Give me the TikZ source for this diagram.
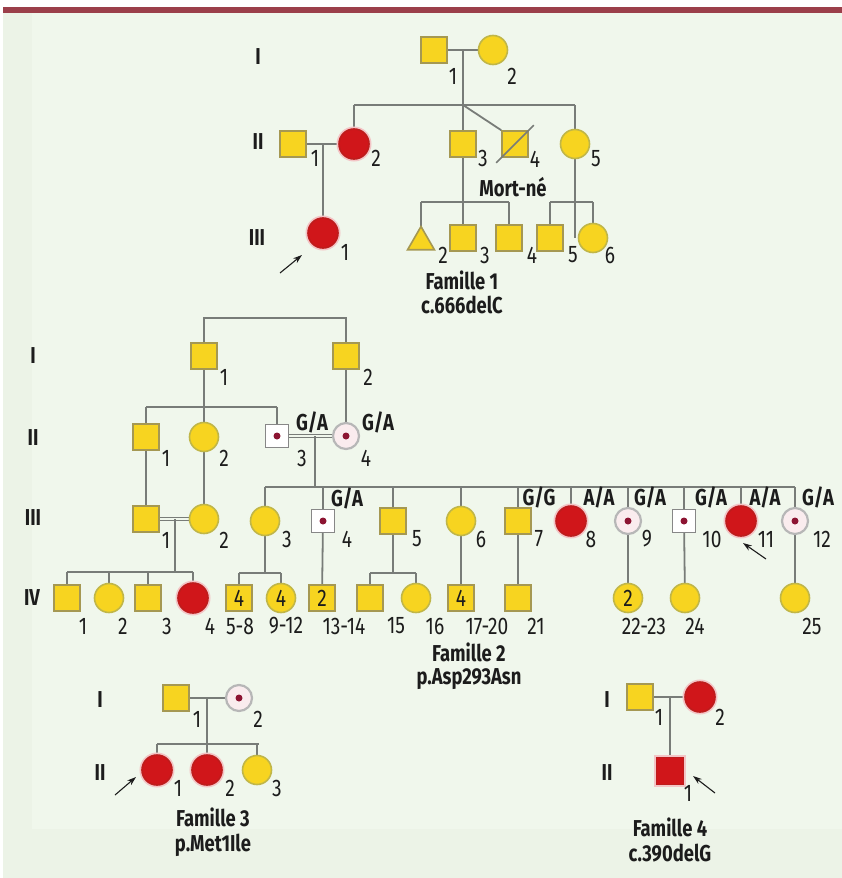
\documentclass[tikz,border=0pt]{standalone}
\usepackage{fontspec}
\setmainfont{Fira Sans}[FakeStretch=0.8]
\usetikzlibrary{shapes.geometric,arrows.meta}
\definecolor{bgout}{RGB}{236,243,231}
\definecolor{bgin}{RGB}{240,247,236}
\definecolor{barred}{RGB}{155,63,74}
\definecolor{yel}{RGB}{247,212,32}
\definecolor{sqedge}{RGB}{165,152,82}
\definecolor{ciedge}{RGB}{192,182,72}
\definecolor{affred}{RGB}{208,22,26}
\definecolor{affedge}{RGB}{190,28,28}
\definecolor{carfill}{RGB}{250,236,238}
\definecolor{caredge}{RGB}{135,135,135}
\definecolor{dotred}{RGB}{140,20,50}
\definecolor{linegrey}{RGB}{120,124,120}
\definecolor{ink}{RGB}{28,28,28}
\tikzset{
  ind/.style={inner sep=0pt, line width=1.6pt, text=ink, font=\fontsize{24}{26}\selectfont},
  sq/.style={ind, rectangle, minimum size=26pt, draw=sqedge, fill=yel},
  ci/.style={ind, circle, minimum size=29pt, draw=ciedge, fill=yel},
  affci/.style={ind, circle, minimum size=30pt, draw=affedge, fill=affred,
    preaction={draw=affred!25, line width=5pt}},
  affsq/.style={ind, rectangle, minimum size=27pt, draw=affedge, fill=affred,
    preaction={draw=affred!25, line width=5pt}},
  cardot/.style={path picture={\fill[dotred] (path picture bounding box.center) circle (3.5pt);}},
  carsq/.style={ind, rectangle, minimum size=23pt, draw=caredge, fill=white, cardot},
  carci/.style={ind, circle, minimum size=26pt, line width=2.2pt, draw=caredge!60, fill=carfill, cardot},
  tri/.style={ind, regular polygon, regular polygon sides=3, minimum size=31pt, draw=sqedge, fill=yel},
  num/.style={font=\fontsize{24}{26}\selectfont, text=ink, inner sep=0pt},
  gen/.style={font=\fontsize{23}{25}\selectfont\bfseries, text=ink, inner sep=0pt},
  link/.style={draw=linegrey, line width=1.8pt},
  dbl/.style={draw=linegrey, line width=1.3pt, double=bgin, double distance=1.6pt},
  pointer/.style={-{Stealth[length=9pt,width=6pt]}, line width=1.1pt, draw=ink},
}
\begin{document}
\begin{tikzpicture}[x=1pt,y=-1pt]
% background and top rule
\useasboundingbox (0,0) rectangle (842,878);
\fill[white] (0,0) rectangle (842,878);
\fill[bgout] (3,13) rectangle (842,878);
\fill[bgin] (32,13) rectangle (842,829);
\fill[barred] (3,7) rectangle (842,13);

% ================= Famille 1 =================
\node[gen] (f1gI) at (258,57) {I};
\node[gen] (f1gII) at (258,142) {II};
\node[gen] (f1gIII) at (257,238) {III};

\coordinate (f1m) at (463,50);
\coordinate (f1s) at (463,105);
\coordinate (f1m2) at (323,144);
\coordinate (f1s3) at (463,202);
\coordinate (f1s5) at (575,202);

% connectors drawn first, symbols on top
\path[link] (434,50) -- (493,50);
\path[link] (f1m) -- (f1s);
\path[link] (354,105) -- (575,105);
\path[link] (354,105) -- (354,130);
\path[link] (463,105) -- (463,238);
\path[link] (575,105) -- (575,238);
\path[link] (293,144) -- (354,144);
\path[link] (f1m2) -- (323,233);
\path[link] (421,202) -- (509,202);
\path[link] (421,202) -- (421,226);
\path[link] (509,202) -- (509,238);
\path[link] (550,202) -- (593,202);
\path[link] (550,202) -- (550,238);
\path[link] (593,202) -- (593,238);

\node[sq] (f1I1) at (434,50) {};
\node[ci] (f1I2) at (493,50) {};
\node[num] (f1I1n) at (453,76) {1};
\node[num] (f1I2n) at (512,76) {2};

\node[sq] (f1II1) at (293,144) {};
\node[affci] (f1II2) at (354,144) {};
\node[sq] (f1II3) at (463,144) {};
\node[sq] (f1II4) at (515,144) {};
\node[ci] (f1II5) at (575,144) {};
\path[link] (f1s) -- (f1II4.north west);
\draw[linegrey, line width=1.6pt] ([shift={(-5,5)}]f1II4.south west) -- ([shift={(5,-5)}]f1II4.north east);
\node[num] (f1II1n) at (315,158) {1};
\node[num] (f1II2n) at (376,158) {2};
\node[num] (f1II3n) at (483,158) {3};
\node[num] (f1II4n) at (535,159) {4};
\node[num] (f1II5n) at (596,159) {5};
\node[gen] (f1mort) at (513,187) {Mort-né};

\node[affci] (f1III1) at (323,233) {};
\node[tri] (f1III2) at (421,242) {};
\node[sq] (f1III3) at (463,238) {};
\node[sq] (f1III4) at (509,238) {};
\node[sq] (f1III5) at (550,238) {};
\node[ci] (f1III6) at (593,238) {};
\node[num] (f1III1n) at (345,252) {1};
\node[num] (f1III2n) at (443,255) {2};
\node[num] (f1III3n) at (485,255) {3};
\node[num] (f1III4n) at (532,255) {4};
\node[num] (f1III5n) at (573,255) {5};
\node[num] (f1III6n) at (610,255) {6};
\coordinate (f1arr) at (280,273);
\draw[pointer] (f1arr) -- (302,255);

\node[gen] (f1t) at (462,280) {Famille 1};
\node[gen] (f1v) at (462,305) {c.666delC};

% ================= Famille 2 =================
\node[gen] (f2gI) at (33,356) {I};
\node[gen] (f2gII) at (33,438) {II};
\node[gen] (f2gIII) at (33,518) {III};
\node[gen] (f2gIV) at (32,598) {IV};

\coordinate (f2top) at (275,318);
\coordinate (f2m3) at (315,436);
\coordinate (f2s3) at (315,487);
\coordinate (f2m1) at (175,519);

\path[link] (204,356) -- (204,318) -- (346,318) -- (346,356);
\path[link] (204,356) -- (204,437);
\path[link] (146,407) -- (277,407);
\path[link] (146,407) -- (146,519);
\path[link] (277,407) -- (277,436);
\path[link] (346,356) -- (346,436);
\path[link] (204,437) -- (204,519);
\path[dbl] (277,436) -- (346,436);
\path[link] (f2m3) -- (f2s3);
\path[link] (265,487) -- (795,487);
\foreach \x in {265,323,393,461,518,571,628,684,741,795}
  \path[link] (\x,487) -- (\x,510);
\path[dbl] (146,519) -- (204,519);
\path[link] (f2m1) -- (175,572);
\path[link] (67,572) -- (193,572);
\foreach \x in {67,109,148,193}
  \path[link] (\x,572) -- (\x,598);
\path[link] (265,521) -- (265,573);
\path[link] (239,573) -- (281,573) ;
\path[link] (239,573) -- (239,598);
\path[link] (281,573) -- (281,598);
\path[link] (323,521) -- (322,598);
\path[link] (393,521) -- (393,573);
\path[link] (370,573) -- (416,573);
\path[link] (370,573) -- (370,598);
\path[link] (416,573) -- (416,598);
\path[link] (461,521) -- (461,598);
\path[link] (518,521) -- (518,598);
\path[link] (628,521) -- (628,598);
\path[link] (684,521) -- (685,598);
\path[link] (795,521) -- (795,598);

\node[sq] (f2I1) at (204,356) {};
\node[sq] (f2I2) at (346,356) {};
\node[num] (f2I1n) at (224,377) {1};
\node[num] (f2I2n) at (368,377) {2};

\node[sq] (f2II1) at (146,437) {};
\node[ci] (f2II2) at (204,437) {};
\node[carsq] (f2II3) at (277,436) {};
\node[carci] (f2II4) at (346,436) {};
\node[num] (f2II1n) at (166,458) {1};
\node[num] (f2II2n) at (224,458) {2};
\node[num] (f2II3n) at (302,458) {3};
\node[num] (f2II4n) at (366,458) {4};
\node[gen] (f2II3g) at (312,422) {G/A};
\node[gen] (f2II4g) at (378,422) {G/A};

\node[sq] (f2III1) at (146,519) {};
\node[ci] (f2III2) at (204,519) {};
\node[ci] (f2III3) at (265,521) {};
\node[carsq] (f2III4) at (323,521) {};
\node[sq] (f2III5) at (393,521) {};
\node[ci] (f2III6) at (461,521) {};
\node[sq] (f2III7) at (518,521) {};
\node[affci] (f2III8) at (571,521) {};
\node[carci] (f2III9) at (628,521) {};
\node[carsq] (f2III10) at (684,521) {};
\node[affci] (f2III11) at (741,521) {};
\node[carci] (f2III12) at (795,521) {};
\node[num] (f2III1n) at (166,540) {1};
\node[num] (f2III2n) at (224,540) {2};
\node[num] (f2III3n) at (287,539) {3};
\node[num] (f2III4n) at (347,539) {4};
\node[num] (f2III5n) at (417,539) {5};
\node[num] (f2III6n) at (481,539) {6};
\node[num] (f2III7n) at (539,539) {7};
\node[num] (f2III8n) at (591,539) {8};
\node[num] (f2III9n) at (647,539) {9};
\node[num] (f2III10n) at (712,539) {10};
\node[num] (f2III11n) at (766,539) {11};
\node[num] (f2III12n) at (822,539) {12};
\node[gen] (f2III4g) at (347,498) {G/A};
\node[gen] (f2III7g) at (539,497) {G/G};
\node[gen] (f2III8g) at (599,497) {A/A};
\node[gen] (f2III9g) at (650,497) {G/A};
\node[gen] (f2III10g) at (711,497) {G/A};
\node[gen] (f2III11g) at (765,497) {A/A};
\node[gen] (f2III12g) at (818,497) {G/A};
\coordinate (f2arr) at (766,559);
\draw[pointer] (f2arr) -- (743,543);

\node[sq] (f2IV1) at (67,598) {};
\node[ci] (f2IV2) at (109,598) {};
\node[sq] (f2IV3) at (148,598) {};
\node[affci] (f2IV4) at (193,598) {};
\node[sq] (f2IV5) at (239,598) {4};
\node[ci] (f2IV9) at (281,598) {4};
\node[sq] (f2IV13) at (322,598) {2};
\node[sq] (f2IV15) at (370,598) {};
\node[ci] (f2IV16) at (416,598) {};
\node[sq] (f2IV17) at (461,598) {4};
\node[sq] (f2IV21) at (518,598) {};
\node[ci] (f2IV22) at (628,598) {2};
\node[ci] (f2IV24) at (685,598) {};
\node[ci] (f2IV25) at (795,598) {};
\node[num] (f2IV1n) at (83,626) {1};
\node[num] (f2IV2n) at (123,626) {2};
\node[num] (f2IV3n) at (167,626) {3};
\node[num] (f2IV4n) at (210,626) {4};
\node[num] (f2IV5n) at (240,626) {5-8};
\node[num] (f2IV9n) at (286,626) {9-12};
\node[num] (f2IV13n) at (344,626) {13-14};
\node[num] (f2IV15n) at (396,626) {15};
\node[num] (f2IV16n) at (435,626) {16};
\node[num] (f2IV17n) at (487,626) {17-20};
\node[num] (f2IV21n) at (536,626) {21};
\node[num] (f2IV22n) at (644,626) {22-23};
\node[num] (f2IV24n) at (695,626) {24};
\node[num] (f2IV25n) at (812,626) {25};

\node[gen] (f2t) at (469,652) {Famille 2};
\node[gen] (f2v) at (469,679) {p.Asp293Asn};

% ================= Famille 3 =================
\node[gen] (f3gI) at (100,700) {I};
\node[gen] (f3gII) at (100,773) {II};
\coordinate (f3m) at (207,698);
\coordinate (f3s) at (207,744);
\path[link] (176,698) -- (239,698);
\path[link] (f3m) -- (f3s);
\path[link] (157,744) -- (259,744);
\foreach \x in {157,207,257}
  \path[link] (\x,744) -- (\x,770);

\node[sq] (f3I1) at (176,698) {};
\node[carci] (f3I2) at (239,698) {};
\node[num] (f3I1n) at (197,719) {1};
\node[num] (f3I2n) at (258,719) {2};
\node[affci] (f3II1) at (157,770) {};
\node[affci] (f3II2) at (207,770) {};
\node[ci] (f3II3) at (257,770) {};
\node[num] (f3II1n) at (178,788) {1};
\node[num] (f3II2n) at (230,788) {2};
\node[num] (f3II3n) at (277,788) {3};
\coordinate (f3arr) at (115,795);
\draw[pointer] (f3arr) -- (136,777);
\node[gen] (f3t) at (213,817) {Famille 3};
\node[gen] (f3v) at (213,845) {p.Met1Ile};

% ================= Famille 4 =================
\node[gen] (f4gI) at (607,700) {I};
\node[gen] (f4gII) at (607,773) {II};
\coordinate (f4m) at (670,697);
\path[link] (640,697) -- (700,697);
\path[link] (f4m) -- (670,771);
\node[sq] (f4I1) at (640,697) {};
\node[affci] (f4I2) at (700,697) {};
\node[num] (f4I1n) at (659,717) {1};
\node[num] (f4I2n) at (720,717) {2};
\node[affsq] (f4II1) at (670,771) {};
\node[num] (f4II1n) at (688,793) {1};
\coordinate (f4arr) at (715,793);
\draw[pointer] (f4arr) -- (693,776);
\node[gen] (f4t) at (670,827) {Famille 4};
\node[gen] (f4v) at (670,853) {c.390delG};
\end{tikzpicture}
\end{document}
